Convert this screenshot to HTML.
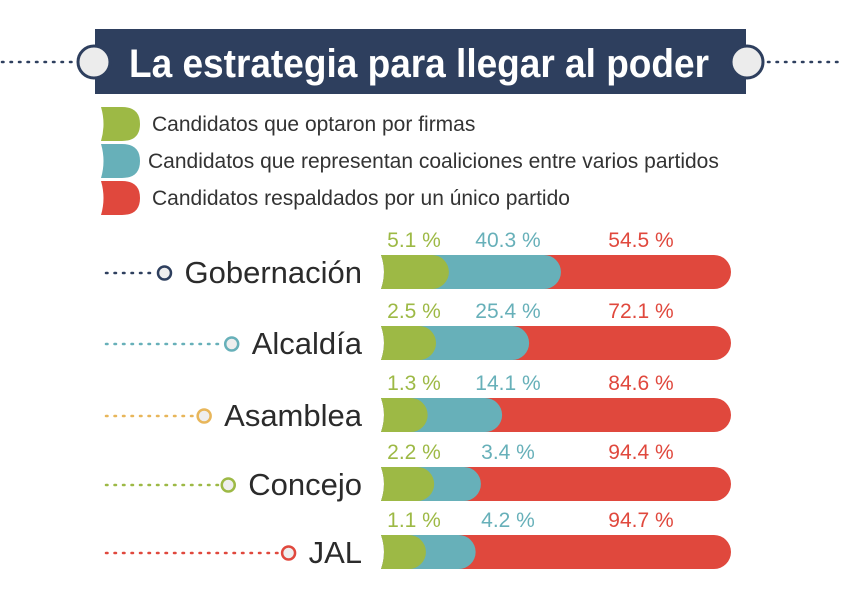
<!DOCTYPE html>
<html><head><meta charset="utf-8">
<style>
html,body{margin:0;padding:0;background:#fff;}
svg{display:block;font-family:"Liberation Sans",sans-serif;}
</style></head>
<body>
<svg id="chart" width="841" height="606" viewBox="0 0 841 606" xmlns="http://www.w3.org/2000/svg">
  <g>
    <line x1="2" y1="62" x2="76" y2="62" stroke="#2e3f5e" stroke-width="2.5" stroke-dasharray="1.5 7" stroke-linecap="round"/>
    <line x1="768" y1="62" x2="841" y2="62" stroke="#2e3f5e" stroke-width="2.5" stroke-dasharray="1.5 7" stroke-linecap="round"/>
    <rect x="95" y="29" width="651" height="65" fill="#2e3f5e"/>
    <circle cx="94" cy="62" r="16" fill="#ececec" stroke="#2e3f5e" stroke-width="3"/>
    <circle cx="747" cy="62" r="16" fill="#ececec" stroke="#2e3f5e" stroke-width="3"/>
    <text x="419" y="77" text-anchor="middle" fill="#fff" font-size="40" font-weight="bold" textLength="580" lengthAdjust="spacingAndGlyphs">La estrategia para llegar al poder</text>
  </g>
  <g id="legend"></g>
  <g id="rows"></g>
</svg>
<script>
const categories = ["Gobernación","Alcaldía","Asamblea","Concejo","JAL"];
const firmas = [5.1, 2.5, 1.3, 2.2, 1.1];
const coaliciones = [40.3, 25.4, 14.1, 3.4, 4.2];
const unico = [54.5, 72.1, 84.6, 94.4, 94.7];
const legendLabels = ["Candidatos que optaron por firmas","Candidatos que representan coaliciones entre varios partidos","Candidatos respaldados por un único partido"];

const NS = "http://www.w3.org/2000/svg";
const GREEN="#9db945", TEAL="#67b0b9", RED="#e0483d";
const rowColors = ["#2e3f5e","#67b0b9","#e8b65a","#9db945","#e0483d"];
const seriesColors=[GREEN,TEAL,RED];
function el(tag, attrs, parent){const e=document.createElementNS(NS,tag);for(const k in attrs)e.setAttribute(k,attrs[k]);parent.appendChild(e);return e;}

// legend
const lg=document.getElementById('legend');
legendLabels.forEach((t,i)=>{
  const y=107+i*37;
  const p=el('path',{d:`M101 ${y} L122 ${y} Q140 ${y} 140 ${y+17} Q140 ${y+34} 122 ${y+34} L101 ${y+34} Q106 ${y+17} 101 ${y} Z`,fill:seriesColors[i]},lg);
  
  
  const tx=el('text',{x:i==1?148:152,y:y+24,'font-size':21,fill:'#333'},lg);
  tx.textContent=t;
  
  
});

// scales (segment width axis functions)
const barLeft=381, barRight=731, barH=34;
const rowY=[255,326,398,467,535];
function xGreen(v){return 25+19*Math.sqrt(v);}
function xTeal(v){return 20+14.5*Math.sqrt(v);}
function seg(x0,x1,y,h){const r=h/2;return `M${x0} ${y} L${x1-r} ${y} A${r} ${r} 0 0 1 ${x1-r} ${y+h} L${x0} ${y+h} Q${x0+6} ${y+r} ${x0} ${y} Z`;}

const rows=document.getElementById('rows');
categories.forEach((c,i)=>{
  const y=rowY[i];
  const g=el('g',{},rows);
  
  
  const gEnd=barLeft+xGreen(firmas[i]);
  const tEnd=gEnd+xTeal(coaliciones[i]);
  const r=el('path',{d:seg(barLeft,barRight,y,barH),fill:RED},g);
  
  
  const t=el('path',{d:seg(barLeft,tEnd,y,barH),fill:TEAL},g);
  
  
  const gr=el('path',{d:seg(barLeft,gEnd,y,barH),fill:GREEN},g);
  
  
  const vals=[firmas[i],coaliciones[i],unico[i]], cx=[414,508,641];
  vals.forEach((v,k)=>{
    const tx=el('text',{x:cx[k],y:y-8,'text-anchor':'middle','font-size':21,fill:seriesColors[k]},g);
    tx.textContent=v.toFixed(1)+" %";
    
    
  });
  const lab=el('text',{x:362,y:y+barH/2+11,'text-anchor':'end','font-size':31,fill:'#2b2b2b'},g);
  lab.textContent=c;
  
  
  const w=lab.getComputedTextLength();
  const cxC=362-w-20, cy=y+barH/2+1;
  const ln=el('line',{x1:106,y1:cy,x2:cxC-10,y2:cy,stroke:rowColors[i],'stroke-width':2.5,'stroke-dasharray':'1.5 7','stroke-linecap':'round'},g);
  
  
  const ci=el('circle',{cx:cxC,cy:cy,r:6.5,fill:'#eee',stroke:rowColors[i],'stroke-width':2.5},g);
  
  
});
</script>
</body></html>
